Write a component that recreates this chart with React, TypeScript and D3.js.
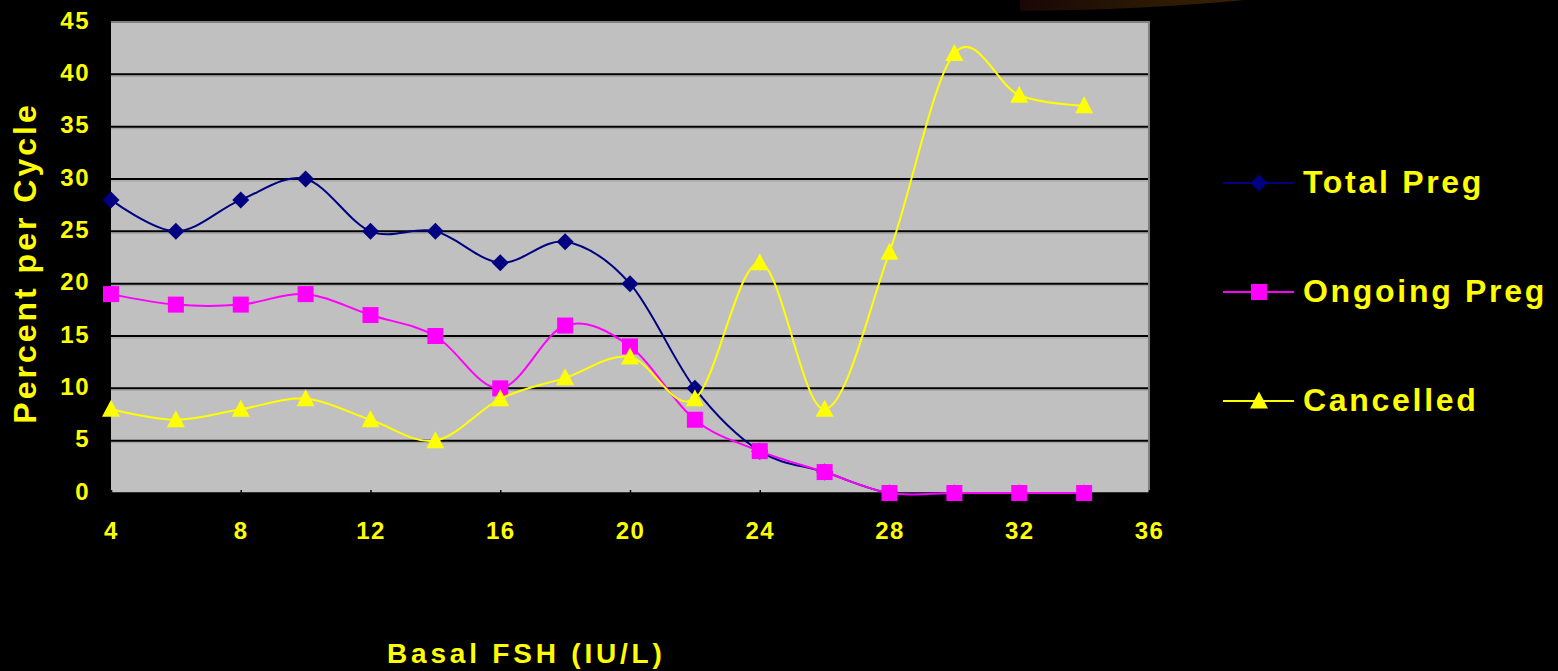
import { useEffect, useRef } from 'react'
import * as d3 from 'd3'

const fshLevels = [4, 6, 8, 10, 12, 14, 16, 18, 20, 22, 24, 26, 28, 30, 32, 34]
const totalPreg = [28, 25, 28, 30, 25, 25, 22, 24, 20, 10, 4, 2, 0, 0, 0, 0]
const ongoingPreg = [19, 18, 18, 19, 17, 15, 10, 16, 14, 7, 4, 2, 0, 0, 0, 0]
const cancelled = [8, 7, 8, 9, 7, 5, 9, 11, 13, 9, 22, 8, 23, 42, 38, 37]

const xTicks = [4, 8, 12, 16, 20, 24, 28, 32, 36]
const yTicks = [0, 5, 10, 15, 20, 25, 30, 35, 40, 45]

const seriesNames = ['Total Preg', 'Ongoing Preg', 'Cancelled']

const width = 1558
const height = 671
const margin = { left: 111, right: 408, top: 22, bottom: 178 }
const FONT = "'Liberation Sans', Arial, sans-serif"
const YELLOW = '#ffff00'

type Shape = 'diamond' | 'square' | 'triangle'

const series: { name: string; values: number[]; color: string; shape: Shape }[] = [
  { name: seriesNames[0], values: totalPreg, color: '#000080', shape: 'diamond' },
  { name: seriesNames[1], values: ongoingPreg, color: '#ff00ff', shape: 'square' },
  { name: seriesNames[2], values: cancelled, color: '#ffff00', shape: 'triangle' },
]

const markerPath = (shape: Shape) => {
  if (shape === 'diamond') return 'M0,-8.5L8.5,0L0,8.5L-8.5,0Z'
  if (shape === 'square') return 'M-8,-8H8V8H-8Z'
  return 'M0,-9.5L9,7.5H-9Z'
}

const App = () => {
  const xAxisRef = useRef<SVGGElement>(null)

  const xScale = d3
    .scaleLinear()
    .domain([4, 36])
    .range([margin.left, width - margin.right - 1])

  const yScale = d3
    .scaleLinear()
    .domain([0, 45])
    .range([height - margin.bottom, margin.top])

  const line = d3
    .line<number>()
    .x((_, i) => xScale(fshLevels[i]))
    .y(d => yScale(d))
    .curve(d3.curveCardinal.tension(0))

  const x0 = xScale(4)
  const x1 = xScale(36)
  const yBottom = yScale(0)
  const yTop = yScale(45)

  useEffect(() => {
    if (!xAxisRef.current) return
    const g = d3.select(xAxisRef.current)
    g.call(d3.axisBottom(xScale).tickValues(xTicks).tickSizeInner(-3).tickSizeOuter(0).tickFormat(d3.format('d')))
    g.select('.domain').attr('stroke', '#000').attr('stroke-width', 2.5)
    g.selectAll('.tick line').attr('stroke', '#000').attr('stroke-width', 1.5)
    g.selectAll('.tick text')
      .attr('fill', YELLOW)
      .attr('font-family', FONT)
      .attr('font-weight', 'bold')
      .attr('font-size', 24)
      .attr('letter-spacing', 1.5)
      .attr('y', 29)
      .attr('dy', '0.71em')
  }, [])

  const legendY = [183, 292, 401]

  return (
    <svg
      width={width}
      height={height}
      style={{ position: 'absolute', left: 0, top: 0, background: '#000' }}
    >
      <defs>
        <linearGradient id="glow" x1="0" x2="1" y1="0" y2="0">
          <stop offset="0" stopColor="#1a0606" />
          <stop offset="0.5" stopColor="#281704" />
          <stop offset="1" stopColor="#3a2204" />
        </linearGradient>
      </defs>
      <rect width={width} height={height} fill="#000" />
      <path d="M1020,0L1020,11Q1140,10 1245,0Z" fill="url(#glow)" />

      {/* plot area */}
      <rect x={x0} y={yTop} width={x1 - x0} height={yBottom - yTop} fill="#c0c0c0" />
      {yTicks
        .filter(t => t > 0 && t < 45)
        .map(t => (
          <g key={t}>
            <line x1={x0} x2={x1} y1={yScale(t) + 2} y2={yScale(t) + 2} stroke="#a0a0a0" strokeWidth={1} />
            <line x1={x0} x2={x1} y1={yScale(t)} y2={yScale(t)} stroke="#000" strokeWidth={2} />
          </g>
        ))}
      <line x1={x0} x2={x1 + 1} y1={yTop} y2={yTop} stroke="#808080" strokeWidth={2} />
      <line x1={x1} x2={x1} y1={yTop} y2={yBottom} stroke="#808080" strokeWidth={2} />

      <g ref={xAxisRef} transform={`translate(0, ${yBottom})`} />

      {/* y tick labels */}
      {yTicks.map(t => (
        <text
          key={t}
          x={90}
          y={yScale(t) - 2}
          textAnchor="end"
          dominantBaseline="central"
          fill={YELLOW}
          fontFamily={FONT}
          fontWeight="bold"
          fontSize={24}
          letterSpacing={1.5}
        >
          {t}
        </text>
      ))}

      {/* series */}
      {series.map(s => (
        <g key={s.name}>
          <path d={line(s.values) ?? ''} fill="none" stroke={s.color} strokeWidth={2} />
          {s.values.map((v, i) => (
            <path
              key={i}
              d={markerPath(s.shape)}
              transform={`translate(${xScale(fshLevels[i])}, ${yScale(v)})`}
              fill={s.color}
            />
          ))}
        </g>
      ))}

      {/* axis titles */}
      <text
        transform={`translate(36, 263) rotate(-90)`}
        textAnchor="middle"
        fill={YELLOW}
        fontFamily={FONT}
        fontWeight="bold"
        fontSize={32}
        letterSpacing={3}
      >
        Percent per Cycle
      </text>
      <text
        x={387}
        y={663}
        fill={YELLOW}
        fontFamily={FONT}
        fontWeight="bold"
        fontSize={28}
        letterSpacing={3.8}
      >
        Basal FSH (IU/L)
      </text>

      {/* legend */}
      {series.map((s, i) => (
        <g key={s.name} transform={`translate(1223, ${legendY[i]})`}>
          <line x1={0} x2={71} y1={0} y2={0} stroke={s.color} strokeWidth={2} />
          <path d={markerPath(s.shape)} transform="translate(36, 0)" fill={s.color} />
          <text
            x={80}
            y={0}
            dy={10}
            fill={YELLOW}
            fontFamily={FONT}
            fontWeight="bold"
            fontSize={32}
            letterSpacing={2.7}
          >
            {s.name}
          </text>
        </g>
      ))}
    </svg>
  )
}

export default App
